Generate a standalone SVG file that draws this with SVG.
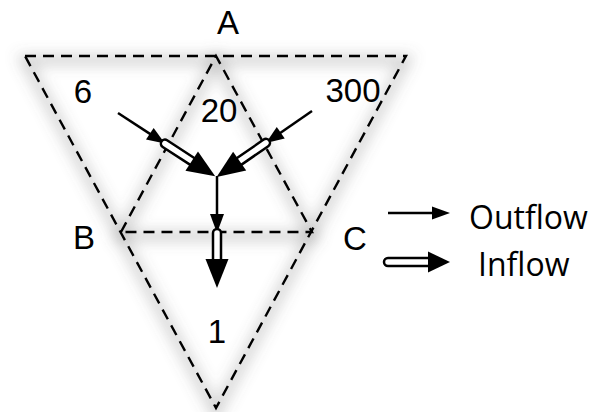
<svg xmlns="http://www.w3.org/2000/svg" width="601" height="412" viewBox="0 0 601 412">
<defs>
<style>
.dash{fill:none;stroke:#000;stroke-width:2.4;stroke-dasharray:11 7}
.shadow{fill:none;stroke:#666;stroke-width:10;opacity:0.3}
.lbl{font-family:"Liberation Sans",Arial,sans-serif;font-size:33px;fill:#000;text-anchor:middle}
.leg{font-family:"Open Sans","Liberation Sans",sans-serif;font-size:32px;fill:#000}
.out{stroke:#000;stroke-width:2.5;fill:none}
.head{fill:#000}
.tube{fill:#fff;stroke:#000;stroke-width:2.5}
</style>
<filter id="blur" x="-20%" y="-20%" width="140%" height="140%">
<feGaussianBlur stdDeviation="7"/>
</filter>
<g id="compound">
<line class="out" x1="0" y1="0" x2="40" y2="0"/>
<polygon class="head" points="38,-7 56,0 38,7"/>
<rect class="tube" x="52" y="-4" width="40" height="8" rx="4"/>
<polygon class="head" points="88,-11.5 116,0 88,11.5"/>
</g>
</defs>
<g id="shadows" filter="url(#blur)" transform="translate(0,4)">
<polygon class="shadow" points="25,56 406,56 216,408"/>
<polygon class="shadow" points="216,56 121,232 312,232"/>
</g>
<g id="triangles">
<polygon class="dash" points="25,56 406,56 216,408"/>
<polyline class="dash" points="121,232 216,56 312,232 121,232"/>
</g>
<g id="connectors">
<use href="#compound" transform="translate(118,113) rotate(33.1)"/>
<use href="#compound" transform="translate(312,111) rotate(145.3)"/>
<g id="down">
<line class="out" x1="217" y1="176" x2="217" y2="216"/>
<polygon class="head" points="210,214 224,214 217,233"/>
<rect class="tube" x="213" y="229" width="8" height="34" rx="4"/>
<polygon class="head" points="205.5,259 228.5,259 217,288"/>
</g>
</g>
<g id="labels">
<g id="nA"><text class="lbl" x="228" y="34">A</text></g>
<g id="nB"><text class="lbl" x="84" y="249">B</text></g>
<g id="nC"><text class="lbl" x="355" y="250">C</text></g>
<g id="n6"><text class="lbl" x="83" y="103">6</text></g>
<g id="n20"><text class="lbl" x="219" y="122">20</text></g>
<g id="n300"><text class="lbl" x="353" y="102">300</text></g>
<g id="n1"><text class="lbl" x="217" y="343">1</text></g>
</g>
<g id="legend">
<line class="out" x1="388" y1="213" x2="434" y2="213"/>
<polygon class="head" points="432,206.5 450,213 432,219.5"/>
<text class="leg" x="469" y="229">Outflow</text>
<rect class="tube" x="384" y="258" width="48" height="8" rx="4"/>
<polygon class="head" points="428,251.5 450,262 428,272.5"/>
<text class="leg" x="478" y="276">Inflow</text>
</g>
</svg>
